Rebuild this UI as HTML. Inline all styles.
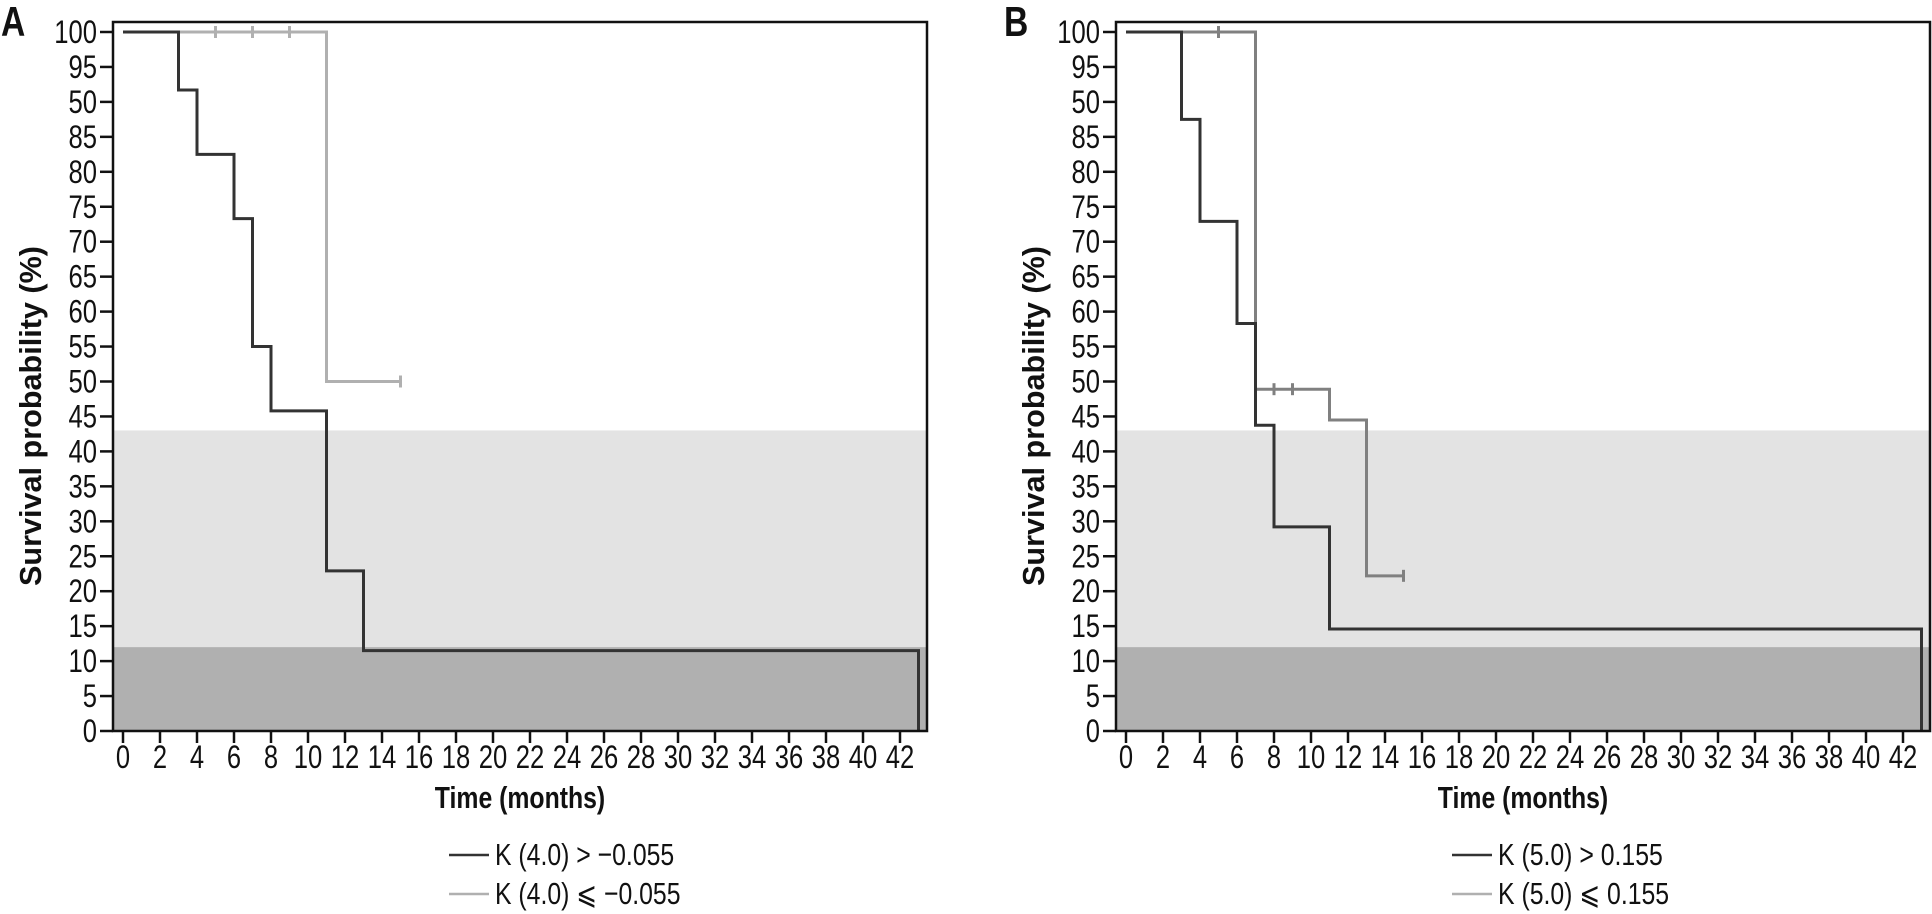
<!DOCTYPE html>
<html><head><meta charset="utf-8"><style>
html,body{margin:0;padding:0;background:#fff;}
svg{display:block;}
text{font-family:"Liberation Sans Narrow","Liberation Sans",sans-serif;fill:#111;}
.b{font-weight:bold;}
</style></head><body>
<svg id="chart" width="1932" height="914" viewBox="0 0 1932 914" xmlns="http://www.w3.org/2000/svg"></svg>
<script>
const yTickValues=[100,95,90,85,80,75,70,65,60,55,50,45,40,35,30,25,20,15,10,5,0];
const yTickLabels=["100","95","50","85","80","75","70","65","60","55","50","45","40","35","30","25","20","15","10","5","0"];
const xTickValues=[0,2,4,6,8,10,12,14,16,18,20,22,24,26,28,30,32,34,36,38,40,42];
const bandLight=[12,43];
const bandDark=[0,12];
// panel A
const aDarkTimes=[0,3,4,6,7,8,11,13,43];
const aDarkSurv=[100,91.7,82.5,73.3,55,45.8,22.9,11.5,0];
const aDarkEnd=43;
const aGrayTimes=[0,11];
const aGraySurv=[100,50];
const aGrayEnd=15;
const aGrayCensorT=[5,7,9,15];
const aGrayCensorS=[100,100,100,50];
// panel B
const bDarkTimes=[0,3,4,6,7,8,11,43];
const bDarkSurv=[100,87.5,72.9,58.3,43.75,29.2,14.6,0];
const bDarkEnd=43;
const bGrayTimes=[0,7,11,13];
const bGraySurv=[100,48.9,44.5,22.2];
const bGrayEnd=15;
const bGrayCensorT=[5,8,9,15];
const bGrayCensorS=[100,48.9,48.9,22.2];

const NS="http://www.w3.org/2000/svg";
const svg=document.getElementById('chart');
function mk(tag,attrs,parent){const e=document.createElementNS(NS,tag);for(const k in attrs)e.setAttribute(k,attrs[k]);(parent||svg).appendChild(e);return e;}

function panel(off,letter,dT,dS,dEnd,gT,gS,gEnd,cT,cS,grayCol,leg1,leg2,id){
  const X=t=>off+123+t*18.5;
  const Y=v=>731-v*6.99;
  const g=mk('g',{});
  
  
  const L=off+113,R=off+927,T=22,B=731;
  let r=mk('rect',{x:L,y:Y(bandLight[1]),width:R-L,height:Y(bandLight[0])-Y(bandLight[1]),fill:'#e3e3e3'},g);
  
  
  r=mk('rect',{x:L,y:Y(bandDark[1]),width:R-L,height:Y(bandDark[0])-Y(bandDark[1]),fill:'#b0b0b0'},g);
  
  
  function steps(ts,ss,end){let d='M'+X(ts[0])+','+Y(ss[0]);for(let i=1;i<ts.length;i++){d+=' H'+X(ts[i])+' V'+Y(ss[i]);}if(end>ts[ts.length-1])d+=' H'+X(end);return d;}
  let p=mk('path',{d:steps(gT,gS,gEnd),fill:'none',stroke:grayCol,'stroke-width':3},g);
  
  
  for(let i=0;i<cT.length;i++){
    const c=mk('line',{x1:X(cT[i]),x2:X(cT[i]),y1:Y(cS[i])-6,y2:Y(cS[i])+6,stroke:grayCol,'stroke-width':3},g);
    
    
  }
  p=mk('path',{d:steps(dT,dS,dEnd),fill:'none',stroke:'#333','stroke-width':3},g);
  
  
  const f=mk('rect',{x:L,y:T,width:R-L,height:B-T,fill:'none',stroke:'#111','stroke-width':2.5},g);
  
  
  yTickValues.forEach((v,i)=>{
    const l=mk('line',{x1:L-13,x2:L,y1:Y(v),y2:Y(v),stroke:'#111','stroke-width':2.5},g);
    
    
    const t=mk('text',{x:L-16,y:Y(v)+11,'font-size':32,'text-anchor':'end'},g);
    t.textContent=yTickLabels[i];
    
    
  });
  xTickValues.forEach(v=>{
    const l=mk('line',{x1:X(v),x2:X(v),y1:B,y2:B+12,stroke:'#111','stroke-width':2.5},g);
    
    
    const t=mk('text',{x:X(v),y:768,'font-size':32,'text-anchor':'middle'},g);
    t.textContent=String(v);
    
    
  });
  let t=mk('text',{x:off+520,y:808,'font-size':31,'text-anchor':'middle',class:'b'},g);
  t.textContent='Time (months)';
  
  
  t=mk('text',{x:0,y:0,'font-size':31,'text-anchor':'middle',class:'b','data-len':'340',transform:'translate('+(off+41)+',416) rotate(-90)'},g);
  t.textContent='Survival probability (%)';
  
  
  t=mk('text',{x:off+1,y:36,'font-size':42,class:'b'},g);
  t.textContent=letter;
  
  
  [[leg1,'#333',855],[leg2,grayCol==='#808080'?'#b0b0b0':grayCol,894]].forEach(([s,col,y])=>{
    const lg=mk('g',{},g);
    
    
    mk('line',{x1:off+449,x2:off+489,y1:y,y2:y,stroke:col,'stroke-width':2.5},lg);
    const tx=mk('text',{x:off+495,y:y+10,'font-size':31},lg);
    tx.textContent=s;
  });
}
panel(0,'A',aDarkTimes,aDarkSurv,aDarkEnd,aGrayTimes,aGraySurv,aGrayEnd,aGrayCensorT,aGrayCensorS,'#b0b0b0','K (4.0) > \u22120.055','K (4.0) \u2a7d \u22120.055','a');
panel(1003,'B',bDarkTimes,bDarkSurv,bDarkEnd,bGrayTimes,bGraySurv,bGrayEnd,bGrayCensorT,bGrayCensorS,'#808080','K (5.0) > 0.155','K (5.0) \u2a7d 0.155','b');
svg.querySelectorAll('text').forEach(t=>{
  const w=t.getComputedTextLength();
  const fixed=t.getAttribute('data-len');
  if(w>0){t.setAttribute('textLength',fixed?fixed:(w*0.8).toFixed(1));t.setAttribute('lengthAdjust','spacingAndGlyphs');}
});
</script>
</body></html>
